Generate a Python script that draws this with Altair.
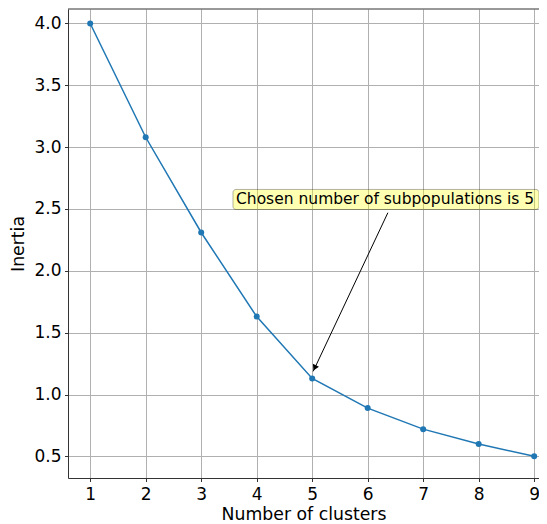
import altair as alt
import pandas as pd

# ---- data ----
clusters = [1, 2, 3, 4, 5, 6, 7, 8, 9]
inertia = [4.00, 3.08, 2.31, 1.63, 1.13, 0.89, 0.72, 0.60, 0.50]
x_ticks = [1, 2, 3, 4, 5, 6, 7, 8, 9]
y_ticks = [0.5, 1.0, 1.5, 2.0, 2.5, 3.0, 3.5, 4.0]

note_text = "Chosen number of subpopulations is 5"
box_x = [3.573, 9.087]
box_y = [2.496, 2.658]
text_xy = [3.627, 2.580]
arrow_from = [6.364, 2.470]
arrow_to = [5.018, 1.187]
head_xy = [5.045, 1.215]

X_DOMAIN = [0.6, 9.087]
Y_DOMAIN = [0.325, 4.117]

df = pd.DataFrame({"k": clusters, "inertia": inertia})
xs = alt.Scale(domain=X_DOMAIN, nice=False, zero=False)
ys = alt.Scale(domain=Y_DOMAIN, nice=False, zero=False)

x_axis = alt.Axis(values=x_ticks, format="d", title="Number of clusters",
                  labelPadding=5, titlePadding=2.5)
y_axis = alt.Axis(values=y_ticks, format=".1f", title="Inertia",
                  labelPadding=3.5, titlePadding=6.5)


def X(field):
    return alt.X(field, scale=xs, axis=x_axis)


def Y(field):
    return alt.Y(field, scale=ys, axis=y_axis)


line = alt.Chart(df).mark_line(color="#1f77b4", strokeWidth=1.5).encode(
    x=X("k:Q"), y=Y("inertia:Q"))
pts = alt.Chart(df).mark_circle(color="#1f77b4", size=36, opacity=1).encode(
    x=X("k:Q"), y=Y("inertia:Q"))

top_df = pd.DataFrame({"yt": [Y_DOMAIN[1]]})
top_spine = alt.Chart(top_df).mark_rule(color="#333", strokeWidth=1).encode(y=Y("yt:Q"))

box_df = pd.DataFrame({"x0": [box_x[0]], "x1": [box_x[1]], "y0": [box_y[0]], "y1": [box_y[1]]})
box = alt.Chart(box_df).mark_rect(fill="yellow", fillOpacity=0.3, stroke="black",
                                  strokeOpacity=0.3, strokeWidth=1, cornerRadius=3).encode(
    x=X("x0:Q"), x2="x1:Q", y=Y("y0:Q"), y2="y1:Q")

text_df = pd.DataFrame({"tx": [text_xy[0]], "ty": [text_xy[1]], "label": [note_text]})
txt = alt.Chart(text_df).mark_text(align="left", baseline="middle", font="DejaVu Sans",
                                   fontSize=15.5, color="black").encode(
    x=X("tx:Q"), y=Y("ty:Q"), text="label:N")

arr_df = pd.DataFrame({"ax": [arrow_from[0]], "ay": [arrow_from[1]],
                       "bx": [arrow_to[0]], "by": [arrow_to[1]]})
arrow = alt.Chart(arr_df).mark_rule(color="black", strokeWidth=1).encode(
    x=X("ax:Q"), y=Y("ay:Q"), x2="bx:Q", y2="by:Q")

head_df = pd.DataFrame({"hx": [head_xy[0]], "hy": [head_xy[1]]})
head = alt.Chart(head_df).mark_point(shape="triangle-up", filled=True, color="black",
                                     size=45, angle=205, opacity=1).encode(
    x=X("hx:Q"), y=Y("hy:Q"))

chart = alt.layer(line, pts, top_spine, box, txt, arrow, head).properties(
    width=471, height=469,
    autosize=alt.AutoSizeParams(type="none"),
    padding={"left": 60, "top": 1, "right": 0, "bottom": 46},
).configure_view(stroke=None).configure_axis(
    labelFont="DejaVu Sans", labelFontSize=17, labelColor="#000",
    titleFont="DejaVu Sans", titleFontSize=17.3, titleFontWeight="normal", titleColor="#000",
    gridColor="#b0b0b0", gridWidth=1, grid=True,
    domainColor="#333", domainWidth=1, tickColor="#333", tickSize=3.5,
)

chart.save("out.html", embed_options={"renderer": "svg", "actions": False})
